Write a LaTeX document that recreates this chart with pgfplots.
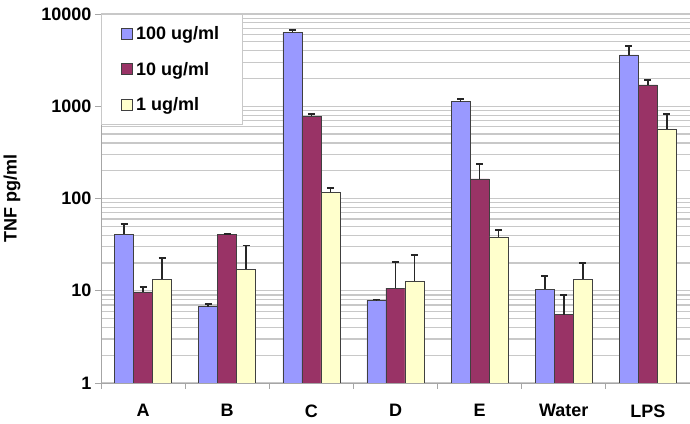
\documentclass[border=0pt]{standalone}
\usepackage{pgfplots}
\pgfplotsset{compat=1.18}
\usepackage{fontspec}
\setmainfont{Liberation Sans}
\definecolor{cblue}{HTML}{9999FF}
\definecolor{cmaroon}{HTML}{993366}
\definecolor{cyellow}{HTML}{FFFFCC}
\definecolor{cgrid}{HTML}{C8C8C8}
\newcommand{\ff}{\fontsize{18bp}{21bp}\selectfont\bfseries}
\begin{document}
\begin{tikzpicture}
\useasboundingbox (-101bp,-41bp) rectangle (589bp,383bp);
\begin{axis}[
  at={(0,0)}, anchor=south west, scale only axis,
  width=589bp, height=369bp,
  ymode=log, ymin=1, ymax=10000,
  xmin=-0.5, xmax=6.5,
  ybar=0pt, bar width=19bp,
  axis x line*=bottom, axis y line*=left,
  axis line style={draw=gray!70, line width=0.8bp, -},
  xtick={-0.5,0.5,1.5,2.5,3.5,4.5,5.5,6.5},
  x tick label as interval,
  xticklabels={A,B,C,D,E,Water,LPS},
  ytick={1,10,100,1000,10000},
  yticklabels={1,10,100,1000,10000},
  tick align=outside,
  major tick length=6bp,
  minor tick length=0pt,
  tick style={draw=gray!70, line width=0.8bp},
  ymajorgrids, yminorgrids,
  major grid style={draw=cgrid, line width=1.1bp},
  minor grid style={draw=cgrid, line width=1.1bp},
  tick label style={font=\ff},
  xticklabel style={yshift=-12bp},
  every axis y label/.style={at={(axis description cs:-0.151,0.5)}, rotate=90, anchor=center},
  ylabel={TNF pg/ml},
  label style={font=\ff},
  error bars/y dir=plus, error bars/y explicit,
  error bars/error bar style={black!85, line width=1.6bp},
  error bars/error mark options={rotate=90, mark size=3.5bp, line width=1.6bp, black!85},
  legend style={at={(0,1)}, anchor=north west, draw=cgrid, line width=1bp, fill=white,
    font=\ff, row sep=17bp, inner xsep=20bp, inner ysep=10bp,
    legend cell align=left,
    nodes={inner xsep=3bp}},
  legend image code/.code={\draw[#1, draw=black!75, line width=0.6bp] (0bp,-5.5bp) rectangle (11bp,5.5bp);},
]
\addplot[fill=cblue, draw=black!75, line width=0.6bp] coordinates {
 (0,41) +- (0,12)
 (1,6.7) +- (0,0.5)
 (2,6300) +- (0,400)
 (3,7.9) +- (0,0.1)
 (4,1120) +- (0,70)
 (5,10.4) +- (0,4)
 (6,3600) +- (0,900)
};
\addplot[fill=cmaroon, draw=black!75, line width=0.6bp] coordinates {
 (0,9.7) +- (0,1.3)
 (1,41) +- (0,0.5)
 (2,780) +- (0,45)
 (3,10.7) +- (0,9.8)
 (4,163) +- (0,74)
 (5,5.5) +- (0,3.5)
 (6,1700) +- (0,230)
};
\addplot[fill=cyellow, draw=black!75, line width=0.6bp] coordinates {
 (0,13.4) +- (0,9.2)
 (1,17.2) +- (0,13.8)
 (2,117) +- (0,13)
 (3,12.8) +- (0,11.6)
 (4,38.3) +- (0,7.3)
 (5,13.4) +- (0,6.6)
 (6,567) +- (0,257)
};
\legend{100 ug/ml, 10 ug/ml, 1 ug/ml}
\end{axis}
\end{tikzpicture}
\end{document}
